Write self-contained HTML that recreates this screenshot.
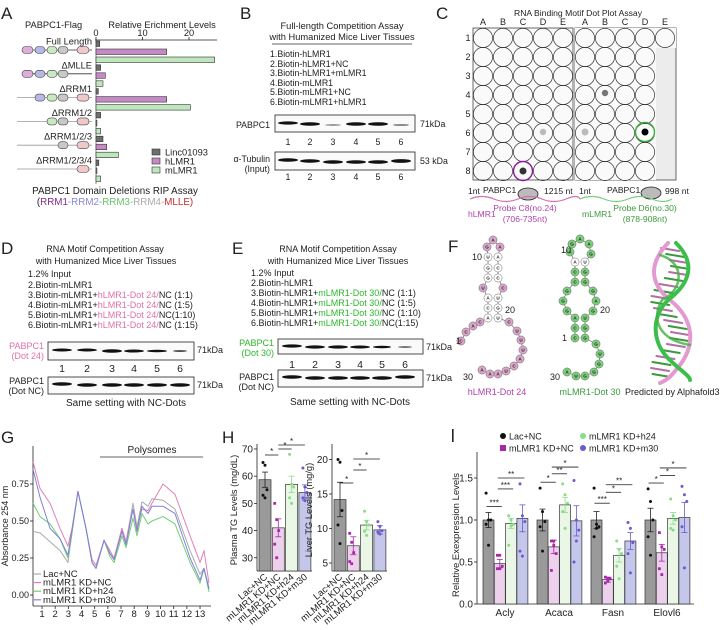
<!DOCTYPE html>
<html><head><meta charset="utf-8">
<style>
html,body{margin:0;padding:0;background:#fff;}
svg{display:block;font-family:"Liberation Sans",Arial,sans-serif;}
text{fill:#222;}
</style></head>
<body>
<svg id="fig" width="720" height="630" viewBox="0 0 720 630" xmlns="http://www.w3.org/2000/svg">
<g font-size="17">
<text x="1" y="19">A</text><text x="240" y="19">B</text><text x="436" y="19">C</text>
<text x="1" y="254">D</text><text x="232" y="254">E</text><text x="448" y="252">F</text>
<text x="1" y="443">G</text><text x="222" y="443">H</text><rect x="452" y="429" width="1.6" height="13" fill="#222"/>
</g>

<g id="panelA">
<text x="25" y="28" font-size="9.3">PABPC1-Flag</text>
<text x="162" y="28" font-size="9.3" text-anchor="middle">Relative Erichment Levels</text>
<text x="115" y="194" font-size="9.8" text-anchor="middle">PABPC1 Domain Deletions RIP Assay</text>
<text x="115" y="205" font-size="9.8" text-anchor="middle"><tspan fill="#222">(</tspan><tspan fill="#8a2a8a">RRM1</tspan><tspan fill="#8888dd">-RRM2-</tspan><tspan fill="#6cc46c">RRM3-</tspan><tspan fill="#aaa">RRM4-</tspan><tspan fill="#c23030">MLLE)</tspan></text>
</g>
<g id="aBars"></g>

<g font-size="8.8">
<text x="342" y="29" text-anchor="middle" font-size="9.3">Full-length Competition Assay</text>
<text x="342" y="40" text-anchor="middle" font-size="9.3">with Humanized Mice Liver Tissues</text>
<line x1="272" y1="44" x2="412" y2="44" stroke="#333" stroke-width="0.8"/>
<text x="270" y="57">1.Biotin-hLMR1</text>
<text x="270" y="67">2.Biotin-hLMR1+NC</text>
<text x="270" y="76">3.Biotin-hLMR1+mLMR1</text>
<text x="270" y="86">4.Biotin-mLMR1</text>
<text x="270" y="95">5.Biotin-mLMR1+NC</text>
<text x="270" y="105">6.Biotin-mLMR1+hLMR1</text>
<text x="270" y="128" text-anchor="end">PABPC1</text>
<rect x="275" y="115" width="140" height="17" fill="#fafafa" stroke="#222" stroke-width="0.8"/>
<g fill="#111">
<ellipse cx="288" cy="123" rx="10" ry="1.6"/><ellipse cx="310" cy="124" rx="10" ry="1.7"/><ellipse cx="333" cy="125" rx="8" ry="0.7" fill="#777"/>
<ellipse cx="356" cy="124" rx="10" ry="1.8"/><ellipse cx="378" cy="124" rx="10" ry="1.8"/><ellipse cx="401" cy="125" rx="8" ry="0.8" fill="#666"/>
</g>
<text x="420" y="127">71kDa</text>
<text x="270" y="162" text-anchor="end">α-Tubulin</text><text x="270" y="172" text-anchor="end">(Input)</text>
<rect x="275" y="152" width="140" height="18" fill="#fafafa" stroke="#222" stroke-width="0.8"/>
<g fill="#111">
<ellipse cx="288" cy="160" rx="10" ry="1.8"/><ellipse cx="310" cy="161" rx="10" ry="1.8"/><ellipse cx="333" cy="162" rx="10" ry="1.8"/>
<ellipse cx="356" cy="162" rx="10" ry="1.8"/><ellipse cx="378" cy="162" rx="10" ry="1.8"/><ellipse cx="401" cy="161" rx="10" ry="1.9"/>
</g>
<text x="420" y="164">53 kDa</text>
<g text-anchor="middle"><text x="288" y="145">1</text><text x="310" y="145">2</text><text x="333" y="145">3</text><text x="356" y="145">4</text><text x="378" y="145">5</text><text x="401" y="145">6</text>
<text x="288" y="180">1</text><text x="310" y="180">2</text><text x="333" y="180">3</text><text x="356" y="180">4</text><text x="378" y="180">5</text><text x="401" y="180">6</text></g>
</g>

<g id="panelC" font-size="8.6">
<text x="578" y="16" text-anchor="middle">RNA Binding Motif Dot Plot Assay</text>
<rect x="473" y="28" width="100" height="152" fill="#fafafa" stroke="#444" stroke-width="0.8"/>
<rect x="575" y="28" width="101" height="152" fill="#ececec" stroke="#444" stroke-width="0.8"/>
<rect x="575" y="48" width="81" height="132" fill="#fafafa"/>
<rect x="575" y="28" width="101" height="20" fill="#fafafa"/>
<g id="cGrid" fill="none" stroke="#333" stroke-width="0.7"></g>
<circle cx="523" cy="171" r="3.5" fill="#333"/>
<circle cx="543" cy="132" r="3.2" fill="#bbb"/>
<circle cx="605" cy="93" r="3.2" fill="#777"/>
<circle cx="585" cy="132" r="3.5" fill="#bbb"/>
<circle cx="645" cy="132" r="3.5" fill="#000"/>
<circle cx="523" cy="171" r="9.5" fill="none" stroke="#8a1a9a" stroke-width="1.4"/>
<circle cx="645" cy="132" r="9.5" fill="none" stroke="#3ab03a" stroke-width="1.4"/>
<text x="468" y="194">1nt</text><text x="483" y="193">PABPC1</text><text x="544" y="194">1215 nt</text>
<ellipse cx="528" cy="194" rx="10" ry="6" fill="#bbb" stroke="#222" stroke-width="0.8"/>
<path d="M470,199 q12,-5 24,0 t24,0 t24,0 t24,0 t14,0" fill="none" stroke="#d070b0" stroke-width="1.2"/>
<text x="468" y="217" style="fill:#b040b0">hLMR1</text>
<text x="525" y="211" text-anchor="middle" style="fill:#b040b0">Probe C8(no.24)</text>
<text x="525" y="222" text-anchor="middle" style="fill:#b040b0">(706-735nt)</text>
<text x="579" y="194">1nt</text><text x="607" y="193">PABPC1</text><text x="665" y="194">998 nt</text>
<ellipse cx="651" cy="193" rx="10" ry="6" fill="#bbb" stroke="#222" stroke-width="0.8"/>
<path d="M580,199 q12,-5 24,0 t24,0 t24,0 t20,0" fill="none" stroke="#7ccc7c" stroke-width="1.2"/>
<text x="582" y="217" style="fill:#3a9a3a">mLMR1</text>
<text x="645" y="211" text-anchor="middle" style="fill:#3a9a3a">Probe D6(no.30)</text>
<text x="645" y="222" text-anchor="middle" style="fill:#3a9a3a">(878-908nt)</text>
</g>

<g font-size="9">
<text x="105" y="252" text-anchor="middle">RNA Motif Competition Assay</text>
<text x="106" y="264" text-anchor="middle">with Humanized Mice Liver Tissues</text>
<text x="28" y="277">1.2% Input</text>
<text x="28" y="288">2.Biotin-mLMR1</text>
<text x="28" y="298">3.Biotin-mLMR1+<tspan style="fill:#e070a8">hLMR1-Dot 24/</tspan>NC (1:1)</text>
<text x="28" y="308">4.Biotin-mLMR1+<tspan style="fill:#e070a8">hLMR1-Dot 24/</tspan>NC (1:5)</text>
<text x="28" y="318">5.Biotin-mLMR1+<tspan style="fill:#e070a8">hLMR1-Dot 24/</tspan>NC(1:10)</text>
<text x="28" y="328">6.Biotin-mLMR1+<tspan style="fill:#e070a8">hLMR1-Dot 24/</tspan>NC (1:15)</text>
<text x="44" y="349" text-anchor="end" style="fill:#e070a8">PABPC1</text><text x="44" y="359" text-anchor="end" style="fill:#e070a8">(Dot 24)</text>
<rect x="48" y="342" width="146" height="18" fill="#fafafa" stroke="#222" stroke-width="0.8"/>
<g fill="#111"><ellipse cx="62" cy="350" rx="10" ry="1.5"/><ellipse cx="87" cy="350" rx="10" ry="1.5"/><ellipse cx="112" cy="351" rx="10" ry="1.8"/><ellipse cx="134" cy="351" rx="10" ry="1.5"/><ellipse cx="157" cy="351" rx="10" ry="1.3"/><ellipse cx="180" cy="351" rx="7" ry="1" fill="#555"/></g>
<text x="197" y="353">71kDa</text>
<g text-anchor="middle" font-size="10.5"><text x="62" y="372">1</text><text x="87" y="372">2</text><text x="112" y="372">3</text><text x="134" y="372">4</text><text x="157" y="372">5</text><text x="180" y="372">6</text></g>
<text x="44" y="384" text-anchor="end">PABPC1</text><text x="44" y="394" text-anchor="end">(Dot NC)</text>
<rect x="48" y="377" width="146" height="17" fill="#fafafa" stroke="#222" stroke-width="0.8"/>
<g fill="#111"><ellipse cx="62" cy="384" rx="10" ry="1.7"/><ellipse cx="87" cy="385" rx="10" ry="1.7"/><ellipse cx="112" cy="385" rx="10" ry="1.7"/><ellipse cx="134" cy="385" rx="10" ry="1.7"/><ellipse cx="157" cy="385" rx="10" ry="1.7"/><ellipse cx="180" cy="385" rx="10" ry="1.7"/></g>
<text x="197" y="388">71kDa</text>
<text x="126" y="406" text-anchor="middle" font-size="10">Same setting with NC-Dots</text>
</g>

<g font-size="9">
<text x="338" y="252" text-anchor="middle">RNA Motif Competition Assay</text>
<text x="338" y="264" text-anchor="middle">with Humanized Mice Liver Tissues</text>
<text x="251" y="276">1.2% Input</text>
<text x="251" y="286">2.Biotin-hLMR1</text>
<text x="251" y="296">3.Biotin-hLMR1+<tspan style="fill:#2cb82c">mLMR1-Dot 30/</tspan>NC (1:1)</text>
<text x="251" y="306">4.Biotin-hLMR1+<tspan style="fill:#2cb82c">mLMR1-Dot 30/</tspan>NC (1:5)</text>
<text x="251" y="316">5.Biotin-hLMR1+<tspan style="fill:#2cb82c">mLMR1-Dot 30/</tspan>NC (1:10)</text>
<text x="251" y="326">6.Biotin-hLMR1+<tspan style="fill:#2cb82c">mLMR1-Dot 30/</tspan>NC(1:15)</text>
<text x="274" y="346" text-anchor="end" style="fill:#2cb82c">PABPC1</text><text x="274" y="356" text-anchor="end" style="fill:#2cb82c">(Dot 30)</text>
<rect x="278" y="339" width="145" height="15" fill="#fafafa" stroke="#222" stroke-width="0.8"/>
<g fill="#111"><ellipse cx="292" cy="346" rx="10" ry="1.6"/><ellipse cx="315" cy="347" rx="10" ry="1.6"/><ellipse cx="338" cy="347" rx="10" ry="1.6"/><ellipse cx="360" cy="347" rx="10" ry="1.5"/><ellipse cx="382" cy="347" rx="9" ry="1.2"/><ellipse cx="405" cy="347" rx="7" ry="0.9" fill="#666"/></g>
<text x="426" y="350">71kDa</text>
<g text-anchor="middle" font-size="10.5"><text x="292" y="368">1</text><text x="315" y="368">2</text><text x="338" y="368">3</text><text x="360" y="368">4</text><text x="382" y="368">5</text><text x="405" y="368">6</text></g>
<text x="274" y="380" text-anchor="end">PABPC1</text><text x="274" y="390" text-anchor="end">(Dot NC)</text>
<rect x="278" y="370" width="145" height="17" fill="#fafafa" stroke="#222" stroke-width="0.8"/>
<g fill="#111"><ellipse cx="292" cy="377" rx="10" ry="1.7"/><ellipse cx="315" cy="378" rx="10" ry="1.7"/><ellipse cx="338" cy="378" rx="10" ry="1.7"/><ellipse cx="360" cy="378" rx="10" ry="1.7"/><ellipse cx="382" cy="378" rx="10" ry="1.7"/><ellipse cx="405" cy="377" rx="10" ry="1.7"/></g>
<text x="426" y="381">71kDa</text>
<text x="350" y="405" text-anchor="middle" font-size="10">Same setting with NC-Dots</text>
</g>

<g id="panelF" font-size="9">
<g id="hStruct"></g><g id="mStruct"></g>
<text x="472" y="260">10</text><text x="505" y="313">20</text><text x="456" y="344">1</text><text x="463" y="380">30</text>
<text x="561" y="253">10</text><text x="600" y="313">20</text><text x="562" y="341">1</text><text x="550" y="380">30</text>
<text x="497" y="395" text-anchor="middle" style="fill:#b040b0">hLMR1-Dot 24</text>
<text x="590" y="395" text-anchor="middle" style="fill:#3a9a3a">mLMR1-Dot 30</text>
<text x="625" y="395">Predicted by Alphafold3</text>
<g fill="none" stroke-linecap="round">
<g id="rungs"></g>
<path d="M668,243 C650,262 648,282 670,300 C695,320 695,345 680,365 C672,375 668,380 660,383" stroke="#e39ad0" stroke-width="4"/>
<path d="M676,243 C695,262 692,282 668,300 C650,318 652,345 672,362 C680,370 690,376 690,380" stroke="#3cbf4a" stroke-width="4"/>
<path d="M660,255 C685,262 684,290 662,300 C650,320 660,340 690,345" stroke="#40b040" stroke-width="2.5" opacity="0.8"/>
</g>
</g>

<g id="panelG" font-size="9.5"></g>
<g id="panelH" font-size="9"></g>
<g id="panelI" font-size="9"></g>
</svg>

<script>
// ---------- Data: Panel A ----------
const aCategories = ['Full Length','ΔMLLE','ΔRRM1','ΔRRM1/2','ΔRRM1/2/3','ΔRRM1/2/3/4'];
const aLinc = [0.8, 1.0, 0.5, 1.0, 1.5, 0.6];
const aHLMR1 = [15.2, 2.0, 15.2, 0.2, 2.3, 0.2];
const aMLMR1 = [25.5, 1.5, 20.3, 1.0, 4.8, 1.0];
const aTicks = [0, 10, 20];
// ---------- Data: Panel G ----------
const gFraction = [0.32,0.85,1.61,2.37,2.97,3.28,3.73,4.34,4.80,5.10,5.71,6.16,6.47,7.07,7.38,7.91,8.21,8.59,9.05,9.35,10.19,11.10,12.24,13.00,13.30,13.68];
const gLac  = [.43,.42,.36,.30,.22,.42,.70,.45,.22,.18,.37,.28,.24,.45,.36,.62,.46,.63,.60,.65,.64,.58,.30,.14,.18,.05];
const gKDNC = [.90,.72,.62,.45,.33,.45,.70,.45,.24,.20,.37,.30,.25,.45,.36,.58,.45,.58,.57,.62,.75,.68,.40,.22,.30,.08];
const gH24  = [.62,.53,.48,.38,.25,.42,.70,.45,.22,.18,.37,.26,.22,.40,.32,.52,.40,.55,.48,.50,.53,.48,.22,.08,.18,.02];
const gM30  = [.85,.66,.45,.38,.27,.44,.70,.45,.22,.18,.37,.28,.24,.43,.34,.58,.43,.60,.55,.60,.60,.55,.25,.10,.18,.04];
const gYTicks = [0, 0.25, 0.5, 0.75];
const gXTicks = [1,2,3,4,5,6,7,8,9,10,11,12,13];
// ---------- Data: Panel H ----------
const hGroups = ['Lac+NC','mLMR1 KD+NC','mLMR1 KD+h24','mLMR1 KD+m30'];
const hPlasmaMean = [58.7, 41.0, 57.0, 54.0];
const hPlasmaErr = [2.8, 3.3, 3.0, 2.8];
const hPlasmaPts = [[65,64,55,53,52],[50,44,40,35,30],[68,57,56,52,50],[63,56,54,52,51]];
const hPlasmaTicks = [30,40,50,60,70];
const hLiverMean = [14.2, 7.5, 10.5, 9.8];
const hLiverErr = [2.5, 1.3, 0.7, 0.6];
const hLiverPts = [[20,19.6,12.6,10.5,7.8],[9.3,8,6.5,5.2,4.9],[12.5,11,10.5,9.6,9],[11,10.3,9.7,9.5,9.2]];
const hLiverTicks = [5,10,15,20];
// ---------- Data: Panel I ----------
const iGenes = ['Acly','Acaca','Fasn','Elovl6'];
const iLac  = [1.0, 1.0, 1.0, 1.0];
const iKDNC = [0.48, 0.68, 0.29, 0.61];
const iH24  = [0.96, 1.18, 0.58, 1.02];
const iM30  = [1.02, 0.99, 0.75, 1.03];
const iErrLac  = [0.09, 0.13, 0.10, 0.14];
const iErrKDNC = [0.05, 0.08, 0.03, 0.10];
const iErrH24  = [0.06, 0.09, 0.08, 0.07];
const iErrM30  = [0.16, 0.18, 0.10, 0.18];
const iPtsLac  = [[1.32,1.0,1.0,0.95,0.7],[1.38,1.1,0.98,0.92,0.63],[1.38,0.95,0.92,0.8,0.9],[1.37,1.22,1.0,0.8,0.58]];
const iPtsKDNC = [[0.58,0.58,0.45,0.42,0.42],[0.75,0.75,0.6,0.4,0.7],[0.32,0.3,0.3,0.25,0.27],[0.85,0.68,0.65,0.42,0.35]];
const iPtsH24  = [[1.05,1.0,0.95,0.7,0.93],[1.43,1.3,1.2,1.1,0.9],[0.75,0.65,0.6,0.45,0.3],[1.25,1.05,1.0,0.9,0.88]];
const iPtsM30  = [[1.43,1.05,0.98,0.63,0.57],[1.47,1.0,0.88,0.5,0.75],[0.97,0.9,0.73,0.6,0.37],[1.4,1.3,1.22,0.92,0.43]];
const iYTicks = [0.0, 0.5, 1.0, 1.5];
const iSig = [['***','***','**'],['*','**','*'],['***','*','**'],['*','*','*']];
const iSigY = [[1.16,1.37,1.5],[1.45,1.55,1.63],[1.2,1.33,1.42],[1.44,1.53,1.62]];

const NS='http://www.w3.org/2000/svg';
function mk(tag, attrs, parent){const e=document.createElementNS(NS,tag);for(const k in attrs)e.setAttribute(k,attrs[k]);parent.appendChild(e);return e;}
function txt(str, attrs, parent){const e=mk('text',attrs,parent);e.textContent=str;return e;}

// ===== Panel A =====
(function(){
  const g=document.getElementById('aBars');
  const xA=v=>96+v*4.65;
  const ax=mk('line',{x1:95,y1:40,x2:217,y2:40,stroke:'#222','stroke-width':0.8},g);
  
  
  mk('line',{x1:96,y1:40,x2:96,y2:184,stroke:'#333','stroke-width':0.6},g);
  aTicks.forEach(t=>{mk('line',{x1:xA(t),y1:40,x2:xA(t),y2:37,stroke:'#222','stroke-width':0.8},g);
    const tl=txt(String(t),{x:xA(t),y:36,'font-size':9.3,'text-anchor':'middle'},g);
    
    });
  const cols=['#6e6e6e','#c58ac5','#bfe6bf'];
  const doms=[['#dcaedc',22,33],['#b8b8e8',35,45],['#c8e8c0',47,57],['#c8c8c8',58,68],['#f0c8c8',77,89]];
  aCategories.forEach((c,i)=>{
    const top=41+i*23.8;
    const lab=txt(c,{x:92,y:top+3.5,'font-size':9.3,'text-anchor':'end'},g);
    
    
    [aLinc[i],aHLMR1[i],aMLMR1[i]].forEach((v,j)=>{
      const b=mk('rect',{x:96,y:top+j*8,width:Math.max(0.8,v*4.65),height:5.5,fill:cols[j],stroke:'#333','stroke-width':0.6},g);
      
      
    });
    const yc=top+9;
    const start=i===0||i===1?0:(i===2?1:(i===3?2:(i===4?3:4)));
    const end=i===1?4:5;
    mk('line',{x1:i<2?22:17,y1:yc,x2:92,y2:yc,stroke:i<2?'#333':'#999','stroke-width':0.8},g);
    for(let d=start;d<end;d++){mk('rect',{x:doms[d][1],y:yc-3.5,width:doms[d][2]-doms[d][1],height:7,rx:3.5,fill:doms[d][0],stroke:'#444','stroke-width':0.6},g);}
  });
  const legs=['Linc01093','hLMR1','mLMR1'];
  legs.forEach((l,j)=>{
    const y=149+j*9;
    mk('rect',{x:152,y:y,width:8,height:6,fill:cols[j],stroke:'#333','stroke-width':0.6},g);
    const lt=txt(l,{x:165,y:y+6.5,'font-size':9.3},g);
    
    
  });
})();

// ===== Panel C grid =====
(function(){
  const g=document.getElementById('cGrid');
  const P=document.getElementById('panelC');
  const L=['A','B','C','D','E'];
  for(let p=0;p<2;p++)for(let c=0;c<5;c++){
    const cx=483+c*20+p*102;
    txt(L[c],{x:cx,y:25,'text-anchor':'middle','font-size':9,stroke:'none'},P);
    for(let r=0;r<8;r++){
      if(p===1&&c===4&&r>0)continue;
      mk('circle',{cx:cx,cy:38+r*19,r:9.6},g);
    }
  }
  for(let r=0;r<8;r++)txt(String(r+1),{x:468,y:41+r*19,'text-anchor':'middle','font-size':9},P);
})();

// ===== Panel F structures =====
(function(){
  function draw(id, nodes, fill, lightIdx){
    const g=document.getElementById(id);
    let d='M'+nodes.map(n=>n[0]+','+n[1]).join(' L');
    mk('path',{d:d,fill:'none',stroke:'#555','stroke-width':0.6},g);
    nodes.forEach((n,k)=>{
      mk('circle',{cx:n[0],cy:n[1],r:4.1,fill:lightIdx.includes(k)?'#fff':fill,stroke:'#666','stroke-width':0.5},g);
      txt(n[2],{x:n[0],y:n[1]+1.7,'font-size':4.6,'text-anchor':'middle','font-weight':'bold'},g);
    });
  }
  const h=[[461,341,'C'],[466,332,'C'],[473,326,'A'],[480,322,'C'],[488,318,'A'],[488,308,'C'],[488,298,'A'],[483,288,'U'],[488,278,'G'],[488,268,'G'],[488,257,'U'],[487,247,'G'],[493,240,'A'],[500,247,'A'],[498,257,'A'],[498,268,'C'],[498,278,'C'],[503,288,'C'],[498,298,'U'],[498,308,'G'],[498,318,'U'],[509,322,'C'],[517,331,'U'],[521,340,'U'],[523,350,'U'],[520,359,'A'],[514,366,'C'],[506,371,'U'],[498,374,'A'],[490,374,'A'],[482,370,'A']];
  draw('hStruct',h,'#dca6cc',[4,5,6,8,9,10,14,15,16,18,19,20]);
  const m=[[575,338,'C'],[575,328,'C'],[575,318,'A'],[567,311,'G'],[563,301,'G'],[567,291,'G'],[575,282,'C'],[575,272,'C'],[575,262,'A'],[570,252,'A'],[572,244,'G'],[580,239,'A'],[589,244,'A'],[591,254,'G'],[585,262,'U'],[585,272,'G'],[585,282,'G'],[593,291,'G'],[596,301,'A'],[593,311,'G'],[585,318,'U'],[585,328,'G'],[585,338,'G'],[596,344,'G'],[600,354,'U'],[599,364,'G'],[594,372,'G'],[585,376,'G'],[576,376,'U'],[567,372,'A']];
  draw('mStruct',m,'#7cd07c',[8,14]);
  const r=document.getElementById('rungs');
  for(let k=0;k<22;k++){const y=248+k*6;const x=670+10*Math.sin(k*0.55);
    mk('line',{x1:x-9,y1:y,x2:x+9,y2:y+3,stroke:k%2?'#3a9a3a':'#b070a0','stroke-width':2},r);}
})();

// ===== Panel G =====
(function(){
  const g=document.getElementById('panelG');
  const xG=f=>42+(f-1)*13.17, yG=v=>595-v*148;
  mk('line',{x1:33,y1:446,x2:33,y2:606,stroke:'#222','stroke-width':0.8},g);
  mk('line',{x1:33,y1:606,x2:211,y2:606,stroke:'#222','stroke-width':0.8},g);
  gYTicks.forEach(t=>{mk('line',{x1:30,y1:yG(t),x2:33,y2:yG(t),stroke:'#222','stroke-width':0.8},g);
    const l=txt(t.toFixed(2),{x:29,y:yG(t)+3,'text-anchor':'end','font-size':9},g);
    
    });
  gXTicks.forEach(t=>{mk('line',{x1:xG(t),y1:606,x2:xG(t),y2:609,stroke:'#222','stroke-width':0.8},g);
    const l=txt(String(t),{x:xG(t),y:617,'text-anchor':'middle'},g);
    
    });
  const yl=txt('Absorbance 254 nm',{x:0,y:0,transform:'translate(8,526) rotate(-90)','text-anchor':'middle','font-size':9},g);
  
  
  mk('line',{x1:100,y1:457,x2:203,y2:457,stroke:'#333','stroke-width':0.8},g);
  txt('Polysomes',{x:152,y:453,'text-anchor':'middle','font-size':10},g);
  const series=[[gLac,'#aaaaaa','Lac+NC'],[gKDNC,'#e080b8','mLMR1 KD+NC'],[gH24,'#70d070','mLMR1 KD+h24'],[gM30,'#8080e0','mLMR1 KD+m30']];
  series.forEach((s,k)=>{
    const p=mk('polyline',{points:gFraction.map((f,i)=>xG(f)+','+yG(s[0][i])).join(' '),fill:'none',stroke:s[1],'stroke-width':1,'stroke-linejoin':'round'},g);
    
    
    const y=577+k*8.6;
    mk('line',{x1:34,y1:y-3,x2:41,y2:y-3,stroke:s[1],'stroke-width':1.2},g);
    const lt=txt(s[2],{x:43,y:y},g);
    
    
  });
})();

// ===== Panel H =====
const fills=['#9a9a9a','#ecd0ec','#eaf6e6','#c4c6ea'];
const ptc=['#111','#a828a8','#88dd88','#6a5ad0'];
(function(){
  const g=document.getElementById('panelH');
  function sub(x0,yFn,means,errs,pts,ticks,ytitle,sig,name){
    mk('line',{x1:x0,y1:444,x2:x0,y2:571,stroke:'#222','stroke-width':0.8},g);
    mk('line',{x1:x0,y1:571,x2:x0+55,y2:571,stroke:'#222','stroke-width':0.8},g);
    ticks.forEach(t=>{mk('line',{x1:x0-3,y1:yFn(t),x2:x0,y2:yFn(t),stroke:'#222','stroke-width':0.8},g);
      txt(String(t),{x:x0-4,y:yFn(t)+3.5,'text-anchor':'end','font-size':10},g);});
    const yt=txt(ytitle,{x:0,y:0,transform:'translate('+(x0-20)+',510) rotate(-90)','text-anchor':'middle','font-size':9.3},g);
    
    
    means.forEach((m,i)=>{
      const bx=x0+2+i*13.3, cx=bx+6;
      const b=mk('rect',{x:bx,y:yFn(m),width:12,height:571-yFn(m),fill:fills[i],stroke:'#333','stroke-width':0.7},g);
      
      
      const ec=i===0?'#222':ptc[i];
      mk('line',{x1:cx,y1:yFn(m+errs[i]),x2:cx,y2:yFn(m-errs[i]),stroke:ec,'stroke-width':0.8},g);
      mk('line',{x1:cx-3,y1:yFn(m+errs[i]),x2:cx+3,y2:yFn(m+errs[i]),stroke:ec,'stroke-width':0.8},g);
      mk('line',{x1:cx-3,y1:yFn(m-errs[i]),x2:cx+3,y2:yFn(m-errs[i]),stroke:ec,'stroke-width':0.8},g);
      pts[i].forEach((v,k)=>{const d=mk(i===1?'rect':'circle',i===1?{x:cx-2+((k%3)-1)*2-1,y:yFn(v)-1.4,width:2.8,height:2.8,fill:ptc[i]}:{cx:cx+((k%3)-1)*2,cy:yFn(v),r:1.5,fill:ptc[i]},g);
        
        });
      const xl=txt(hGroups[i],{x:0,y:0,transform:'translate('+(cx+3)+',578) rotate(-40)','text-anchor':'end','font-size':9.5},g);
      
      
    });
    sig.forEach(s=>{const x1=x0+8+s[0]*13.3,x2=x0+8+s[1]*13.3;
      mk('line',{x1:x1,y1:s[2],x2:x2,y2:s[2],stroke:'#222','stroke-width':0.8},g);
      txt('*',{x:(x1+x2)/2,y:s[2]-1,'text-anchor':'middle','font-size':8},g);});
  }
  sub(257,v=>570-(v-25.5)*2.72,hPlasmaMean,hPlasmaErr,hPlasmaPts,hPlasmaTicks,'Plasma TG Levels (mg/dL)',[[0,1,455],[1,2,449],[1,3,445]],'h-plasma');
  sub(332,v=>563-(v-5)*6.9,hLiverMean,hLiverErr,hLiverPts,hLiverTicks,'Liver TG Levels (mg/g)',[[0,1,483],[1,2,470],[1,3,459]],'h-liver');
})();

// ===== Panel I =====
(function(){
  const g=document.getElementById('panelI');
  const yI=v=>604-v*84;
  mk('line',{x1:477,y1:452,x2:477,y2:604,stroke:'#222','stroke-width':0.8},g);
  mk('line',{x1:477,y1:604,x2:694,y2:604,stroke:'#222','stroke-width':0.8},g);
  iYTicks.forEach(t=>{mk('line',{x1:474,y1:yI(t),x2:477,y2:yI(t),stroke:'#222','stroke-width':0.8},g);
    const l=txt(t.toFixed(1),{x:473,y:yI(t)+3.5,'text-anchor':'end','font-size':10},g);
    
    });
  const yt=txt('Relative Exexpression Levels',{x:0,y:0,transform:'translate(459,535) rotate(-90)','text-anchor':'middle','font-size':9.5},g);
  
  
  const means=[iLac,iKDNC,iH24,iM30], errs=[iErrLac,iErrKDNC,iErrH24,iErrM30], pts=[iPtsLac,iPtsKDNC,iPtsH24,iPtsM30];
  iGenes.forEach((gn,gi)=>{
    const gx=483+gi*54;
    for(let s=0;s<4;s++){
      const m=means[s][gi], e=errs[s][gi], bx=gx+s*11.3, cx=bx+5.5;
      const b=mk('rect',{x:bx,y:yI(m),width:11,height:604-yI(m),fill:fills[s],stroke:'#333','stroke-width':0.7},g);
      
      
      const ec=s===0?'#222':ptc[s];
      mk('line',{x1:cx,y1:yI(m+e),x2:cx,y2:yI(m-e),stroke:ec,'stroke-width':0.8},g);
      mk('line',{x1:cx-3,y1:yI(m+e),x2:cx+3,y2:yI(m+e),stroke:ec,'stroke-width':0.8},g);
      mk('line',{x1:cx-3,y1:yI(m-e),x2:cx+3,y2:yI(m-e),stroke:ec,'stroke-width':0.8},g);
      pts[s][gi].forEach((v,k)=>{const d=mk(s===1?'rect':'circle',s===1?{x:cx-1.4+((k%3)-1)*2.4,y:yI(v)-1.4,width:2.8,height:2.8,fill:ptc[s]}:{cx:cx+((k%3)-1)*2.4,cy:yI(v),r:1.5,fill:ptc[s]},g);
        
        });
    }
    for(let k=0;k<3;k++){
      const a=k===0?0:1, bIdx=k+1;
      const x1=gx+5.5+a*11.3-2, x2=gx+5.5+bIdx*11.3+2, y=yI(iSigY[gi][k]);
      mk('line',{x1:x1,y1:y,x2:x2,y2:y,stroke:'#222','stroke-width':0.8},g);
      txt(iSig[gi][k],{x:(x1+x2)/2,y:y-1,'text-anchor':'middle','font-size':8},g);
    }
    const xl=txt(gn,{x:gx+22,y:616,'text-anchor':'middle','font-size':10},g);
    
    
  });
  const leg=[['Lac+NC',503,436],['mLMR1 KD+NC',503,448],['mLMR1 KD+h24',583,436],['mLMR1 KD+m30',583,448]];
  leg.forEach((l,s)=>{
    if(s===1)mk('rect',{x:l[1]-3,y:l[2]-3,width:6,height:6,fill:ptc[1]},g);
    else mk('circle',{cx:l[1],cy:l[2],r:3,fill:ptc[s]},g);
    const t=txt(l[0],{x:l[1]+6,y:l[2]+3.5,'font-size':9},g);
    
    
  });
})();
</script>
</body></html>
